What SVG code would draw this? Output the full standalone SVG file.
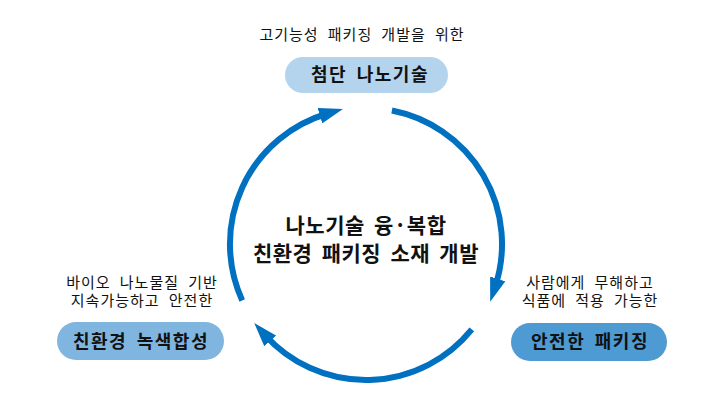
<svg xmlns="http://www.w3.org/2000/svg" width="725" height="416" viewBox="0 0 725 416">
<style>
.lbl{font-family:"Liberation Sans","Noto Sans CJK KR",sans-serif;font-size:15px;fill:#111;text-anchor:middle;letter-spacing:1px;word-spacing:4px}
.box{font-family:"Noto Sans CJK KR","Noto Sans",sans-serif;font-size:18px;font-weight:bold;fill:#111;text-anchor:middle;letter-spacing:1.5px;word-spacing:4px}
.ctr{font-family:"Noto Sans CJK KR","Noto Sans",sans-serif;font-size:21px;font-weight:bold;fill:#111;text-anchor:middle;letter-spacing:0.5px;word-spacing:4px}
.arc{fill:none;stroke:#0070C0;stroke-width:6;marker-end:url(#ah)}
</style>
<defs>
<marker id="ah" markerUnits="userSpaceOnUse" markerWidth="24" markerHeight="16" refX="8" refY="8" orient="auto">
<path d="M0,0 L24,8 L0,16 z" fill="#0070C0"/>
</marker>
</defs>
<rect width="725" height="416" fill="#fff"/>
<g id="connectors">
<path class="arc" d="M391.9,110.5 A136,136 0 0 1 495.2,286.5"/>
<path class="arc" d="M471.8,329.4 A136,136 0 0 1 264.9,335.0"/>
<path class="arc" d="M242.2,300.4 A136,136 0 0 1 327.6,113.5"/>
</g>
<g id="center">
<text class="ctr" x="366"><tspan x="366" y="233">나노기술 융·복합</tspan><tspan x="366" y="261">친환경 패키징 소재 개발</tspan></text>
</g>
<g id="node-top">
<text class="lbl" x="362" y="40">고기능성 패키징 개발을 위한</text>
<rect x="285" y="57" width="163" height="36" rx="18" fill="#B4D4EE"/>
<text class="box" x="370" y="81">첨단 나노기술</text>
</g>
<g id="node-right">
<text class="lbl" x="590"><tspan x="590" y="288">사람에게 무해하고</tspan><tspan x="590" y="306">식품에 적용 가능한</tspan></text>
<rect x="511" y="323" width="156" height="38" rx="19" fill="#4E9AD2"/>
<text class="box" x="590" y="348">안전한 패키징</text>
</g>
<g id="node-left">
<text class="lbl" x="142"><tspan x="142" y="288">바이오 나노물질 기반</tspan><tspan x="142" y="306">지속가능하고 안전한</tspan></text>
<rect x="57" y="322" width="167" height="38" rx="19" fill="#7FB5DF"/>
<text class="box" x="141" y="348">친환경 녹색합성</text>
</g>
</svg>
